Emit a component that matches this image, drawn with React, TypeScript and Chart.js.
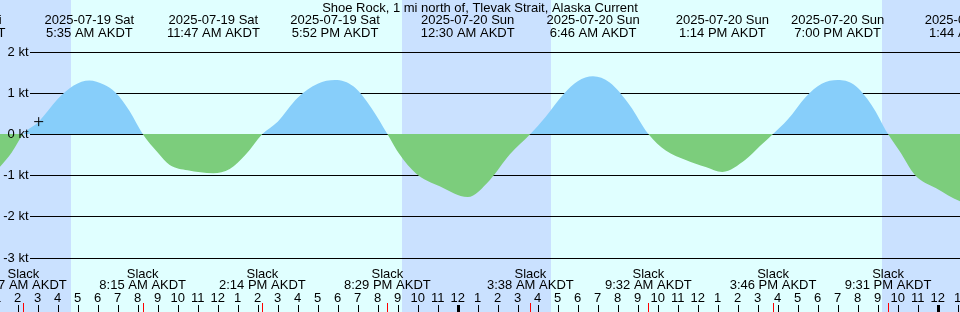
import React, { useEffect, useRef } from "react";
import { Chart, registerables } from "chart.js";

Chart.register(...registerables);

// time values are hours since 2025-07-19 00:00 AKDT
const viewStart = 1.115;
const viewEnd = 49.115;
const yMaxKt = 3.252;
const yMinKt = -4.32;

const title = "Shoe Rock, 1 mi north of, Tlevak Strait, Alaska Current";

const currentTimes = [
  0.0, 1.1, 1.7, 2.283, 3.05, 4.0, 4.8, 5.583, 6.3, 6.9, 7.6, 8.25,
  9.0, 9.6, 10.5, 11.783, 12.6, 13.4, 14.233,
  15.0, 16.0, 17.0, 17.867, 18.8, 19.7, 20.483,
  21.1, 21.9, 23.1, 24.5, 25.6, 26.6, 27.633,
  28.4, 29.3, 30.0, 30.767, 31.6, 32.6, 33.533,
  34.4, 35.4, 36.4, 37.233, 38.4, 39.1, 39.767,
  40.5, 41.4, 42.2, 43.0, 43.8, 44.7, 45.517,
  46.1, 46.87, 47.9, 49.115, 49.733,
];
const currentKnots = [
  -1.3, -0.8, -0.45, 0, 0.3, 0.85, 1.18, 1.3, 1.2, 1.0, 0.55, 0,
  -0.45, -0.75, -0.88, -0.95, -0.85, -0.5, 0,
  0.3, 0.88, 1.22, 1.31, 1.15, 0.62, 0,
  -0.5, -0.95, -1.27, -1.53, -1.12, -0.5, 0,
  0.42, 0.97, 1.28, 1.4, 1.25, 0.7, 0,
  -0.4, -0.63, -0.8, -0.92, -0.62, -0.3, 0,
  0.35, 0.9, 1.22, 1.31, 1.2, 0.7, 0,
  -0.42, -1.0, -1.31, -1.63, -1.7,
];

const nowTime = [3.05];
const nowKnots = [0.3];

const extremeTimes = [-0.935, 5.583, 11.783, 17.867, 24.5, 30.767, 37.233, 43.0, 49.733];
const extremeDates = [
  "2025-07-18 Fri", "2025-07-19 Sat", "2025-07-19 Sat", "2025-07-19 Sat",
  "2025-07-20 Sun", "2025-07-20 Sun", "2025-07-20 Sun", "2025-07-20 Sun", "2025-07-21 Mon",
];
const extremeClock = [
  "11:04 PM AKDT", "5:35 AM AKDT", "11:47 AM AKDT", "5:52 PM AKDT",
  "12:30 AM AKDT", "6:46 AM AKDT", "1:14 PM AKDT", "7:00 PM AKDT", "1:44 AM AKDT",
];

const slackTimes = [2.283, 8.25, 14.233, 20.483, 27.633, 33.533, 39.767, 45.517];
const slackClock = [
  "2:17 AM AKDT", "8:15 AM AKDT", "2:14 PM AKDT", "8:29 PM AKDT",
  "3:38 AM AKDT", "9:32 AM AKDT", "3:46 PM AKDT", "9:31 PM AKDT",
];

const nightStarts = [-5, 21.215, 45.215];
const nightEnds = [4.665, 28.665, 52.665];

const yTickValues = [2, 1, 0, -1, -2, -3];
const yTickLabels = ["2 kt", "1 kt", "0 kt", "-1 kt", "-2 kt", "-3 kt"];

const FONT = '13px "Liberation Sans", Arial, sans-serif';
const DAY = "#e0ffff";
const NIGHT = "#cae1ff";
const FLOOD = "#87cefa";
const EBB = "#7ccd7c";

const bgPlugin = {
  id: "tideBackground",
  beforeDraw(chart: any) {
    const { ctx, chartArea, scales } = chart;
    const xs = scales.x;
    const ys = scales.y;
    ctx.save();
    ctx.fillStyle = DAY;
    ctx.fillRect(chartArea.left, chartArea.top, chartArea.width, chartArea.height);
    ctx.fillStyle = NIGHT;
    for (let i = 0; i < nightStarts.length; i++) {
      const a = Math.max(chartArea.left, xs.getPixelForValue(nightStarts[i]));
      const b = Math.min(chartArea.right, xs.getPixelForValue(nightEnds[i]));
      if (b > a) ctx.fillRect(a, chartArea.top, b - a, chartArea.height);
    }
    ctx.strokeStyle = "#000";
    ctx.lineWidth = 1;
    for (const v of yTickValues) {
      const y = Math.round(ys.getPixelForValue(v)) + 0.5;
      ctx.beginPath();
      ctx.moveTo(30, y);
      ctx.lineTo(chartArea.right, y);
      ctx.stroke();
    }
    ctx.restore();
  },
};

const textPlugin = {
  id: "tideText",
  afterDraw(chart: any) {
    const { ctx, chartArea, scales } = chart;
    const xs = scales.x;
    const ys = scales.y;
    ctx.save();
    ctx.font = FONT;
    ctx.fillStyle = "#000";
    ctx.textAlign = "center";
    ctx.textBaseline = "alphabetic";
    ctx.fillText(title, 480, 12);
    for (let i = 0; i < extremeTimes.length; i++) {
      const x = xs.getPixelForValue(extremeTimes[i]);
      ctx.fillText(extremeDates[i], x, 24);
      ctx.fillText(extremeClock[i], x, 36.5);
    }
    for (let i = 0; i < slackTimes.length; i++) {
      const x = xs.getPixelForValue(slackTimes[i]);
      ctx.fillText("Slack", x, 278);
      ctx.fillText(slackClock[i], x, 289);
    }
    // hour ticks
    const bottom = chartArea.bottom;
    for (let h = Math.ceil(viewStart - 1); h <= Math.floor(viewEnd + 1); h++) {
      const x = xs.getPixelForValue(h);
      const hr = ((h % 12) + 12) % 12;
      ctx.fillText(String(hr === 0 ? 12 : hr), x, 301.5);
      const midnight = ((h % 24) + 24) % 24 === 0;
      ctx.fillStyle = "#000";
      if (midnight) ctx.fillRect(Math.round(x) - 1, bottom - 7, 3, 7);
      else ctx.fillRect(Math.round(x), bottom - 7, 1, 7);
    }
    ctx.fillStyle = "#ff0000";
    for (const t of slackTimes) {
      const x = xs.getPixelForValue(t);
      ctx.fillRect(Math.round(x), bottom - 9, 1, 9);
    }
    ctx.fillStyle = "#000";
    ctx.textAlign = "right";
    ctx.textBaseline = "middle";
    for (let i = 0; i < yTickValues.length; i++) {
      const y = ys.getPixelForValue(yTickValues[i]);
      ctx.fillText(yTickLabels[i], 28.5, y + 0.5);
    }
    ctx.restore();
  },
};

export default function App() {
  const canvasRef = useRef<HTMLCanvasElement | null>(null);

  useEffect(() => {
    document.body.style.margin = "0";
    const canvas = canvasRef.current;
    if (!canvas) return;
    const chart = new Chart(canvas, {
      type: "line",
      data: {
        datasets: [
          {
            label: "current",
            data: currentTimes.map((t, i) => ({ x: t, y: currentKnots[i] })),
            borderWidth: 0,
            borderColor: "rgba(0,0,0,0)",
            pointRadius: 0,
            cubicInterpolationMode: "monotone",
            fill: { target: "origin", above: FLOOD, below: EBB },
            order: 2,
          } as any,
          {
            label: "now",
            data: nowTime.map((t, i) => ({ x: t, y: nowKnots[i] })),
            showLine: false,
            pointStyle: "cross",
            pointRadius: 4.5,
            pointBorderColor: "#000",
            pointBorderWidth: 1,
            borderColor: "#000",
            fill: false,
            order: 1,
          } as any,
        ],
      },
      options: {
        animation: false,
        responsive: false,
        maintainAspectRatio: false,
        layout: { padding: 0, autoPadding: false },
        plugins: {
          legend: { display: false },
          tooltip: { enabled: false },
          title: { display: false },
        },
        scales: {
          x: { type: "linear", min: viewStart, max: viewEnd, display: false },
          y: { type: "linear", min: yMinKt, max: yMaxKt, display: false },
        },
      } as any,
      plugins: [bgPlugin, textPlugin],
    });
    return () => chart.destroy();
  }, []);

  return (
    <div style={{ position: "fixed", left: 0, top: 0, width: 960, height: 312 }}>
      <canvas ref={canvasRef} width={960} height={312} style={{ display: "block", width: 960, height: 312 }} />
    </div>
  );
}
